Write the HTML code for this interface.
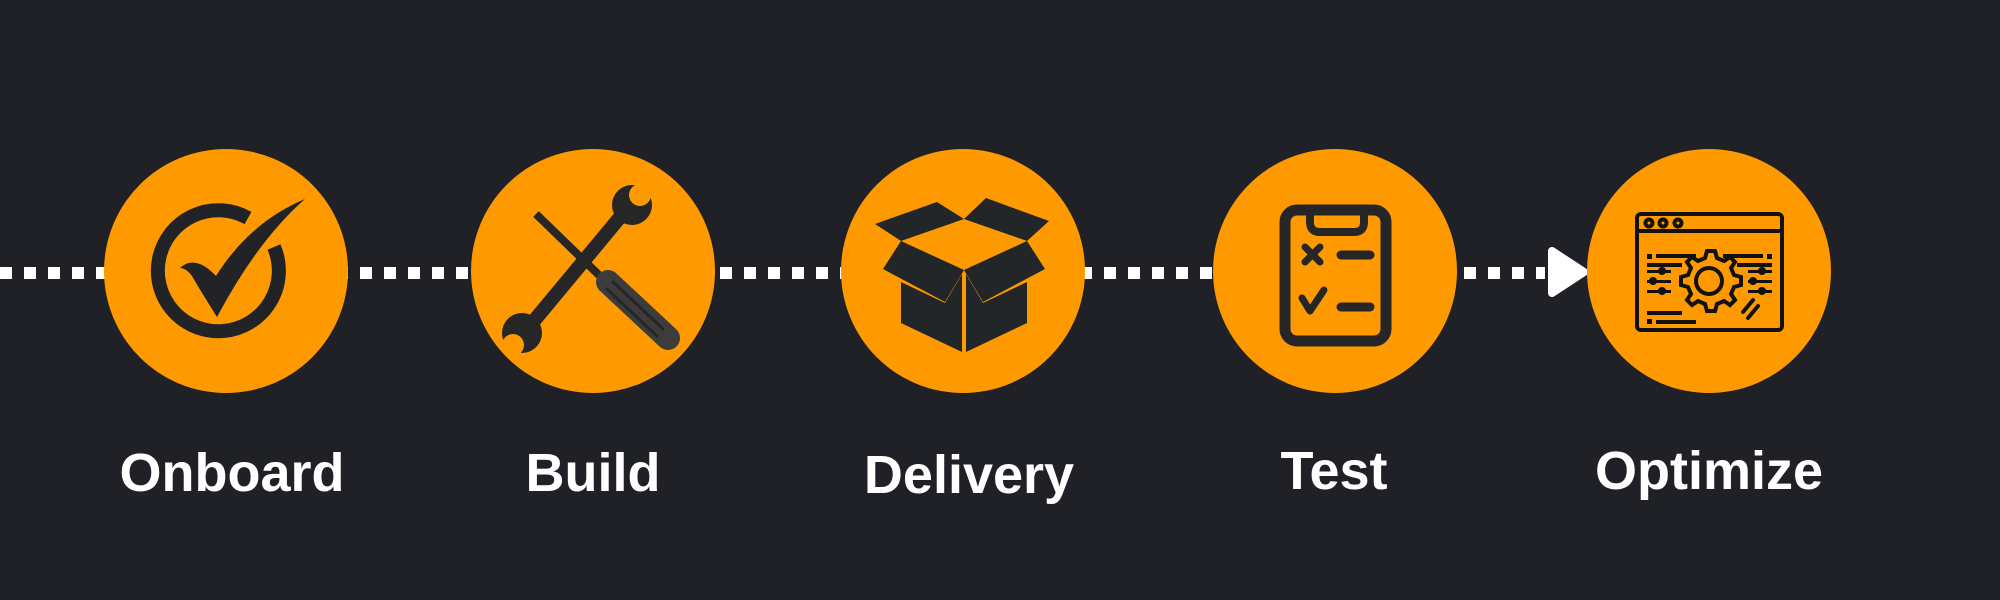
<!DOCTYPE html>
<html><head><meta charset="utf-8"><style>
html,body{margin:0;padding:0;background:#202126;}
svg{display:block}
text{font-family:"Liberation Sans",sans-serif;font-weight:bold;fill:#fff;font-size:54px;text-anchor:middle}
</style></head><body>
<svg width="2000" height="600" viewBox="0 0 2000 600" xmlns="http://www.w3.org/2000/svg">
<rect width="2000" height="600" fill="#202126"/>
<line x1="0" y1="273" x2="1545" y2="273" stroke="#fff" stroke-width="12" stroke-dasharray="12 12"/>
<polygon points="1552,251 1584,272 1552,293" fill="#fff" stroke="#fff" stroke-width="8" stroke-linejoin="round"/>
<g fill="#ff9900">
<circle cx="226" cy="271" r="122"/>
<circle cx="593" cy="271" r="122"/>
<circle cx="963" cy="271" r="122"/>
<circle cx="1335" cy="271" r="122"/>
<circle cx="1709" cy="271" r="122"/>
</g>
<!-- Onboard -->
<path d="M248,218 A60.5,60.5 0 1 0 274,247" fill="none" stroke="#222326" stroke-width="14"/>
<path d="M180,268 Q195,254 216,276 Q250,222 305,199 Q258,240 217,317 Q200,290 192,276 Q186,268 180,268 Z" fill="#222326"/>
<!-- Build -->
<path d="M631,204 L523,334" stroke="#262626" stroke-width="14" stroke-linecap="round"/>
<circle cx="632" cy="205" r="20" fill="#262626"/><circle cx="640" cy="195" r="11" fill="#ff9900"/>
<circle cx="522" cy="333" r="20" fill="#262626"/><circle cx="513" cy="345" r="11" fill="#ff9900"/>
<path d="M536,214 L602,278" stroke="#262626" stroke-width="8"/>
<path d="M608,282 L668,338" stroke="#3c3c3c" stroke-width="24" stroke-linecap="round"/>
<path d="M612,281 L664,330" stroke="#262626" stroke-width="3"/>
<path d="M606,288 L658,337" stroke="#262626" stroke-width="3"/>
<!-- Delivery -->
<g fill="#222628">
<polygon points="875,224 937,202 964,219 901,241"/>
<polygon points="964,219 986,198 1049,221 1027,241"/>
<polygon points="901,241 883,269 945,302 964,270"/>
<polygon points="1027,241 1045,269 983,302 964,270"/>
<polygon points="901,282 945,303 962,274 962,352 901,323"/>
<polygon points="1027,282 983,303 966,274 966,352 1027,323"/>
</g>
<!-- Test -->
<rect x="1285" y="210" width="101" height="131" rx="12" fill="none" stroke="#262626" stroke-width="11"/>
<path d="M1310,210 L1310,222 Q1310,232 1320,232 L1354,232 Q1364,232 1364,222 L1364,210" fill="none" stroke="#262626" stroke-width="8"/>
<path d="M1305,247 L1320,262 M1320,247 L1305,262" stroke="#262626" stroke-width="7" stroke-linecap="round"/>
<path d="M1341,255 L1370,255 M1341,307 L1370,307" stroke="#262626" stroke-width="9" stroke-linecap="round"/>
<path d="M1302,298 L1310,311 L1324,290" fill="none" stroke="#262626" stroke-width="7" stroke-linecap="round" stroke-linejoin="round"/>
<!-- Optimize -->
<g stroke="#111" fill="none" stroke-width="4">
<rect x="1637" y="214" width="145" height="116" rx="4"/>
<line x1="1637" y1="231" x2="1782" y2="231"/>
<circle cx="1649" cy="223" r="3.5"/><circle cx="1663" cy="223" r="3.5"/><circle cx="1678" cy="223" r="3.5"/>
<circle cx="1709" cy="281" r="13"/>
<path d="M1709,251 l6,0 2,7 7,3 6,-4 5,5 -4,6 3,7 7,2 0,8 -7,2 -3,7 4,6 -5,5 -6,-4 -7,3 -2,7 -8,0 -2,-7 -7,-3 -6,4 -5,-5 4,-6 -3,-7 -7,-2 0,-8 7,-2 3,-7 -4,-6 5,-5 6,4 7,-3 2,-7 z"/>
</g>
<g fill="#111">
<rect x="1647" y="254" width="5" height="5"/><rect x="1656" y="254" width="40" height="4"/>
<rect x="1647" y="263" width="35" height="4"/>
<rect x="1723" y="254" width="40" height="4"/><rect x="1767" y="254" width="5" height="5"/>
<rect x="1737" y="263" width="35" height="4"/>
<rect x="1647" y="311" width="35" height="4"/>
<rect x="1647" y="319" width="5" height="5"/><rect x="1656" y="320" width="40" height="4"/>
<rect x="1647" y="270" width="24" height="3"/><rect x="1647" y="280" width="24" height="3"/><rect x="1647" y="290" width="24" height="3"/>
<circle cx="1662" cy="271" r="4"/><circle cx="1653" cy="281" r="4"/><circle cx="1662" cy="291" r="4"/>
<rect x="1748" y="270" width="24" height="3"/><rect x="1748" y="280" width="24" height="3"/><rect x="1748" y="290" width="24" height="3"/>
<circle cx="1762" cy="271" r="4"/><circle cx="1753" cy="281" r="4"/><circle cx="1762" cy="291" r="4"/>
</g>
<path d="M1743,312 l10,-12 M1748,318 l10,-12" stroke="#111" stroke-width="4" fill="none" stroke-linecap="round"/>
<!-- Labels -->
<text x="232" y="491">Onboard</text>
<text x="593" y="491">Build</text>
<text x="969" y="493">Delivery</text>
<text x="1334" y="489">Test</text>
<text x="1709" y="489">Optimize</text>
</svg>
</body></html>
